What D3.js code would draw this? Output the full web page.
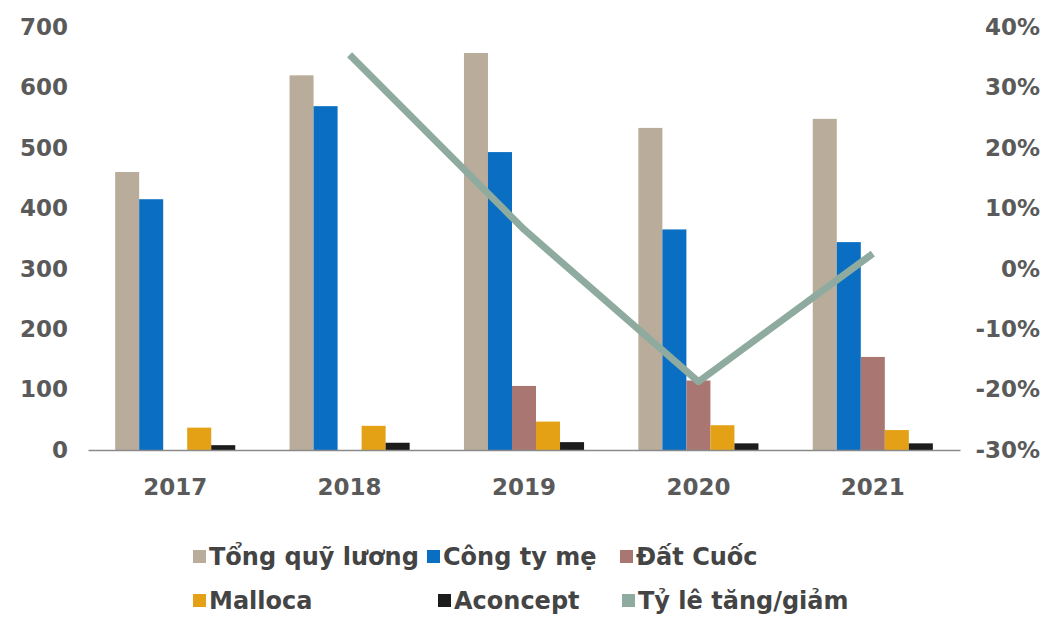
<!DOCTYPE html>
<html>
<head>
<meta charset="utf-8">
<script src="https://cdn.jsdelivr.net/npm/d3@7"></script>
<style>
  body { margin: 0; background: #fff; }
  svg text { font-family: "DejaVu Sans", sans-serif; }
</style>
</head>
<body>
<div class="canvas"></div>
<script>
// data
const years = ['2017', '2018', '2019', '2020', '2021'];
const seriesNames = ['Tổng quỹ lương', 'Công ty mẹ', 'Đất Cuốc', 'Malloca', 'Aconcept'];
const tongQuyLuong = [460, 620, 657, 533, 548];
const congTyMe = [415, 569, 493, 365, 344];
const datCuoc = [0, 0, 106, 115, 154];
const malloca = [37, 40, 47, 41, 33];
const aconcept = [8, 12, 13, 11, 11];
const tyLe = [null, 0.354, 0.065, -0.187, 0.025];   // Tỷ lê tăng/giảm
const leftTicks = [0, 100, 200, 300, 400, 500, 600, 700];
const rightTicks = [-0.3, -0.2, -0.1, 0, 0.1, 0.2, 0.3, 0.4];
const lineName = 'Tỷ lê tăng/giảm';

const colors = ['#b9ac9b', '#0a6fc2', '#a97672', '#e4a116', '#1c1c1c'];
const lineColor = '#8fab9f';

const seriesValues = [tongQuyLuong, congTyMe, datCuoc, malloca, aconcept];

const width = 1046, height = 617;
const plot = {left: 88, right: 960, top: 27, bottom: 450};

const svg = d3.select('.canvas')
  .append('svg')
  .attr('width', width)
  .attr('height', height);

// scales
const x0 = d3.scaleBand().domain(years).range([plot.left, plot.right]).padding(0);
const x1 = d3.scaleBand().domain(seriesNames).range([0, x0.bandwidth()])
  .paddingInner(0).paddingOuter(1.13);
const yLeft = d3.scaleLinear().domain([0, 700]).range([plot.bottom, plot.top]);
const yRight = d3.scaleLinear().domain([-0.3, 0.4]).range([plot.bottom, plot.top]);

// left axis
const leftAxis = svg.append('g')
  .attr('transform', `translate(68,0)`)
  .call(d3.axisLeft(yLeft).tickValues(leftTicks).tickSize(0).tickPadding(0));
leftAxis.select('.domain').remove();

// right axis
const rightAxis = svg.append('g')
  .attr('transform', `translate(1040,0)`)
  .call(d3.axisRight(yRight).tickValues(rightTicks).tickSize(0).tickPadding(0)
    .tickFormat(d => Math.round(d * 100) + '%'));
rightAxis.select('.domain').remove();
rightAxis.selectAll('text').attr('text-anchor', 'end');

svg.selectAll('.tick text')
  .attr('font-size', 23)
  .attr('font-weight', 'bold')
  .attr('fill', '#5a5a5a');

// bars
const groups = svg.append('g').selectAll('g')
  .data(years)
  .join('g')
  .attr('transform', d => `translate(${x0(d)},0)`);

groups.selectAll('rect')
  .data((d, i) => seriesNames.map((s, j) => ({name: s, value: seriesValues[j][i], color: colors[j]})))
  .join('rect')
  .attr('x', d => x1(d.name))
  .attr('width', x1.bandwidth())
  .attr('y', d => yLeft(d.value))
  .attr('height', d => yLeft(0) - yLeft(d.value))
  .attr('fill', d => d.color);

// bottom axis
const bottomAxis = svg.append('g')
  .attr('transform', `translate(0,${plot.bottom})`)
  .call(d3.axisBottom(x0).tickSize(0).tickPadding(29).tickSizeOuter(0));
bottomAxis.select('.domain').attr('stroke', '#8a8a8a').attr('stroke-width', 1.5);
bottomAxis.selectAll('text')
  .attr('font-size', 23)
  .attr('font-weight', 'bold')
  .attr('fill', '#5a5a5a');

// line
const lineData = years.map((y, i) => ({year: y, value: tyLe[i]})).filter(d => d.value !== null);
svg.append('path')
  .datum(lineData)
  .attr('fill', 'none')
  .attr('stroke', lineColor)
  .attr('stroke-width', 7)
  .attr('stroke-linejoin', 'round')
  .attr('d', d3.line()
    .x(d => x0(d.year) + x0.bandwidth() / 2)
    .y(d => yRight(d.value)));

// legend
const legendItems = [
  {name: seriesNames[0], color: colors[0], x: 193, y: 557},
  {name: seriesNames[1], color: colors[1], x: 427, y: 557},
  {name: seriesNames[2], color: colors[2], x: 620, y: 557},
  {name: seriesNames[3], color: colors[3], x: 193, y: 601},
  {name: seriesNames[4], color: colors[4], x: 438, y: 601},
  {name: lineName, color: lineColor, x: 622, y: 601}
];

const legend = svg.append('g').selectAll('g')
  .data(legendItems)
  .join('g')
  .attr('transform', d => `translate(${d.x},${d.y})`);

legend.append('rect')
  .attr('x', 0).attr('y', -7)
  .attr('width', 13).attr('height', 13)
  .attr('fill', d => d.color);

legend.append('text')
  .attr('x', 16)
  .attr('dy', '0.35em')
  .attr('font-size', 24)
  .attr('font-weight', 'bold')
  .attr('fill', '#444')
  .text(d => d.name);
</script>
</body>
</html>
